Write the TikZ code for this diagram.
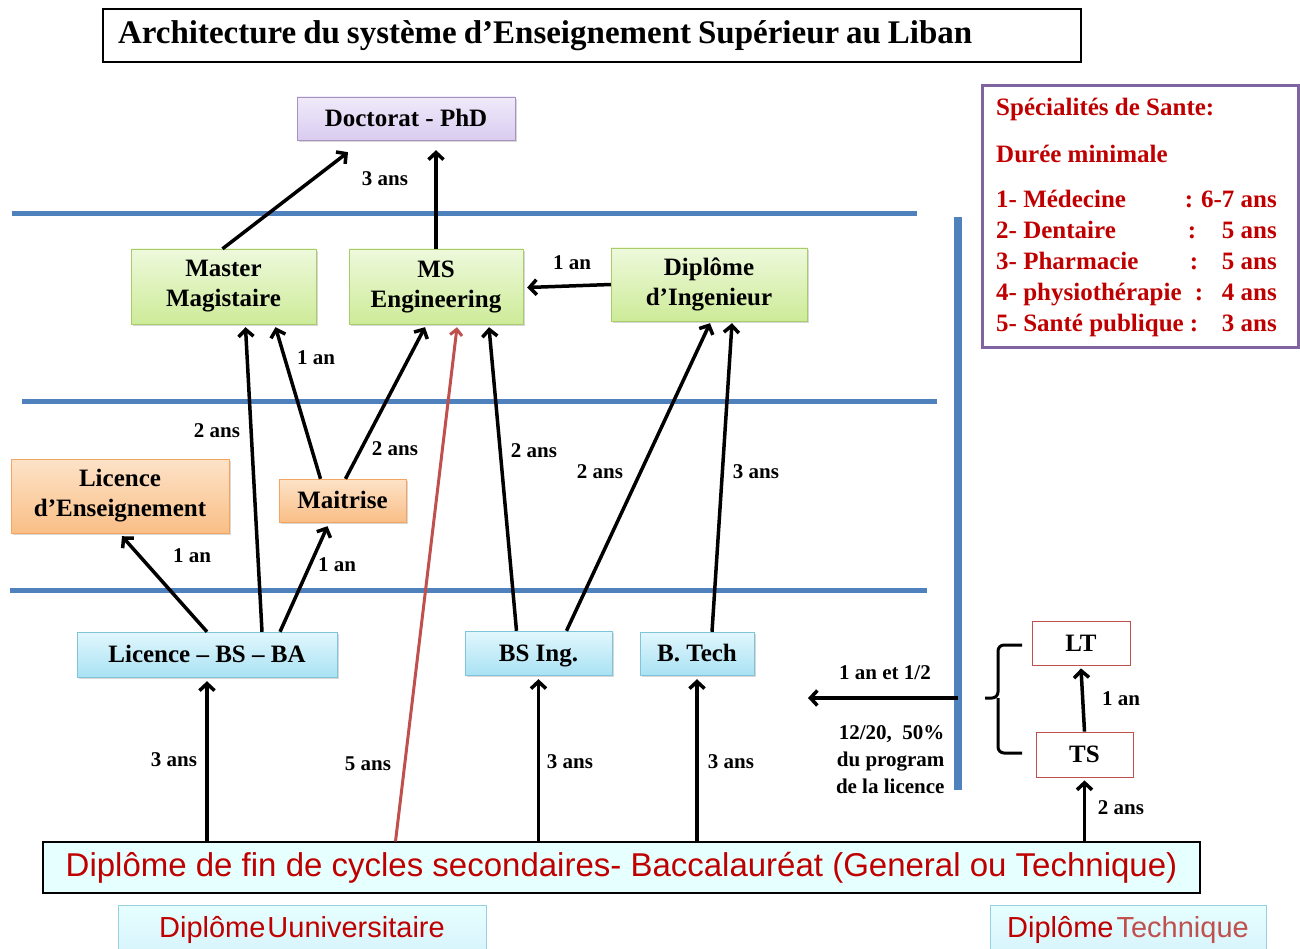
\documentclass[tikz,border=0pt]{standalone}
\usepackage{fontspec}
\setmainfont{Liberation Serif}
\newfontfamily\arialfont{Liberation Sans}
\usetikzlibrary{arrows.meta,calc,shadows}

\definecolor{lineblue}{HTML}{4F81BD}
\definecolor{darkred}{HTML}{C00000}
\definecolor{softred}{HTML}{C0504D}
\definecolor{purpleedge}{HTML}{8064A2}
\definecolor{phdtop}{HTML}{F0EAFA}
\definecolor{phdbot}{HTML}{D9CCF0}
\definecolor{greentop}{HTML}{EEF9DC}
\definecolor{greenbot}{HTML}{CDEB98}
\definecolor{greenedge}{HTML}{A9CC6B}
\definecolor{orangetop}{HTML}{FDE3C8}
\definecolor{orangebot}{HTML}{F9BE86}
\definecolor{orangeedge}{HTML}{F3A461}
\definecolor{bluetop}{HTML}{E2F7FD}
\definecolor{bluebot}{HTML}{A9E2F3}
\definecolor{blueedge}{HTML}{7FC4D8}
\definecolor{bacfill}{HTML}{E6FFFF}

\begin{document}
\begin{tikzpicture}[x=1pt,y=-1pt,
    % boxes of the levels
    level/.style={draw, rectangle, inner sep=2pt, align=center,
      font=\bfseries\fontsize{25}{30}\selectfont,
      drop shadow={opacity=0.3, shadow xshift=2pt, shadow yshift=-2pt}},
    oneline/.style={text height=22pt, text depth=6pt},
    phdbox/.style={level, oneline, draw=purpleedge!70, top color=phdtop, bottom color=phdbot},
    gradbox/.style={level, draw=greenedge, top color=greentop, bottom color=greenbot},
    midbox/.style={level, draw=orangeedge, top color=orangetop, bottom color=orangebot},
    ugbox/.style={level, oneline, draw=blueedge, top color=bluetop, bottom color=bluebot},
    techbox/.style={draw=softred, fill=white, line width=0.8pt,
      font=\bfseries\fontsize{25}{30}\selectfont},
    dur/.style={font=\bfseries\fontsize{21}{27}\selectfont},
    spec/.style={text=darkred, font=\bfseries\fontsize{25}{30}\selectfont,
      inner sep=0pt, text height=22pt, text depth=6pt},
    arr/.style={line width=3.5pt, -{Straight Barb[length=7pt,width=15pt]}},
    sep/.style={lineblue, line width=5pt}
  ]
  \clip (0,0) rectangle (1300,949);
  \fill[white] (0,0) rectangle (1300,949);

  % title
  \node[draw, line width=1.2pt, minimum width=978pt, minimum height=53pt,
    inner xsep=15pt, text width=948pt, align=left,
    font=\bfseries\fontsize{33}{36}\selectfont] (title) at (592,35.5)
    {\spaceskip=0.21em Architecture du système d’Enseignement Supérieur au Liban};

  % separation lines
  \foreach \xa/\xb/\y in {12/917/214, 22/937/401, 10/927/590}{
    \draw[sep] (\xa,\y) -- (\xb,\y);
  }
  \draw[lineblue, line width=8pt] (958,217) -- (958,790);
  \coordinate (vmid) at (958,698);
  \coordinate (vleft) at (808,698);

  % levels
  \node[phdbox, minimum width=218pt, minimum height=43pt] (doc) at (406,118.5) {Doctorat - PhD};
  \node[gradbox, minimum width=185pt, minimum height=75pt] (master) at (223.5,286.5) {Master\\Magistaire};
  \node[gradbox, minimum width=174pt, minimum height=75pt] (ms) at (436,286.5) {MS\\Engineering};
  \node[gradbox, minimum width=196pt, minimum height=73pt] (dip) at (709,284.5) {Diplôme\\d’Ingenieur};
  \node[midbox, minimum width=218pt, minimum height=74pt] (licens) at (120,496) {Licence\\d’Enseignement};
  \node[midbox, oneline, minimum width=127pt, minimum height=43pt] (mait) at (342.5,500.5) {Maitrise};
  \node[ugbox, minimum width=260pt, minimum height=45pt] (licb) at (207,654.5) {Licence – BS – BA};
  \node[ugbox, minimum width=147pt, minimum height=44pt] (bsing) at (538.5,653) {BS Ing.};
  \node[ugbox, minimum width=114pt, minimum height=43pt] (btech) at (697,653.5) {B. Tech};

  % baccalaureat
  \node[draw, line width=1.2pt, fill=bacfill, minimum width=1157pt, minimum height=51pt,
    text=darkred, font=\arialfont\fontsize{33}{36}\selectfont] (bac) at (621.5,867.5)
    {Diplôme de fin de cycles secondaires- Baccalauréat (General ou Technique)};
  \node[draw=blueedge!80, line width=1pt, top color=bacfill, bottom color=bluetop!80!bluebot,
    minimum width=368pt, minimum height=50pt, text=darkred,
    font=\arialfont\fontsize{29}{32}\selectfont] (univ) at (302,930)
    {\raisebox{3pt}{Diplôme\hspace{2pt}Uuniversitaire}};
  \node[draw=blueedge!80, line width=1pt, top color=bacfill, bottom color=bluetop!80!bluebot,
    minimum width=276pt, minimum height=50pt,
    font=\arialfont\fontsize{29}{32}\selectfont] (techd) at (1128,930)
    {\raisebox{3pt}{\textcolor{darkred}{Diplôme}\hspace{3pt}\textcolor{softred}{Technique}}};

  % technical track
  \node[techbox, minimum width=98pt, minimum height=44pt] (lt) at (1081,643) {LT};
  \node[techbox, minimum width=97pt, minimum height=45pt] (ts) at (1084.5,754.5) {TS};
  \draw[line width=3pt, rounded corners=6pt]
    (1022,645) -- (998,645) -- (998,698) -- (985,698)
    (998,698) -- (998,753) -- (1022,753);

  % health specialities
  \node[draw=purpleedge, line width=3pt, minimum width=316pt, minimum height=261pt] (spec) at (1140,216.5) {};
  \node[spec, anchor=west] (spect) at (996,108) {Spécialités de Sante:};
  \node[spec, anchor=west] (specd) at (996,155) {Durée minimale};
  \foreach \y/\nom/\xc/\an in {200/1- Médecine/1189/6-7 ans, 231/2- Dentaire/1192/5 ans,
      262/3- Pharmacie/1194/5 ans, 293/4- physiothérapie/1199/4 ans, 323/5- Santé publique/1194/3 ans}{
    \node[spec, anchor=west] at (996,\y) {\nom};
    \node[spec] at (\xc,\y) {:};
    \node[spec, anchor=east] at (1277,\y) {\an};
  }

  % arrows
  \draw[arr] ($(master.north)+(-1,0)$) -- ($(doc.south)+(-58,12)$);
  \draw[arr] (ms.north) -- ($(ms.north |- doc.south)+(0,10)$);
  \draw[arr] (dip.west) -- ($(ms.east)+(4,1)$);
  \draw[arr] (licb.north) -- ($(licens.south)+(2,3)$);
  \draw[arr] ($(licb.north)+(55,0)$) -- ($(master.south)+(22,3)$);
  \draw[arr] ($(licb.north)+(73,0)$) -- ($(mait.south)+(-15,4)$);
  \draw[arr] ($(mait.north)+(-22,0)$) -- ($(master.south)+(52,3)$);
  \draw[arr] ($(mait.north)+(3,0)$) -- ($(ms.south)+(-11,3)$);
  \draw[softred, line width=3pt, -{Straight Barb[length=6pt,width=12pt]}]
    ($(bac.north)+(-226,0)$) -- ($(ms.south)+(21,3)$);
  \draw[arr] ($(bsing.north)+(-22,0)$) -- ($(ms.south)+(53,3)$);
  \draw[arr] ($(bsing.north)+(28,0)$) -- ($(dip.south)+(1,2)$);
  \draw[arr] ($(btech.north)+(15,0)$) -- ($(dip.south)+(23,2)$);
  \draw[arr] (bac.north -| licb.south) -- ($(licb.south)+(0,4)$);
  \draw[arr] (bac.north -| bsing.south) -- ($(bsing.south)+(0,4)$);
  \draw[arr] (bac.north -| btech.south) -- ($(btech.south)+(0,4)$);
  \draw[arr] (bac.north -| ts.south) -- ($(ts.south)+(0,3)$);
  \draw[arr] (ts.north) -- ($(lt.south)+(0,3)$);
  \draw[arr] (vmid) -- (vleft);

  % durations
  \node[dur] at (385,179) {3 ans};
  \node[dur] at (572,263) {1 an};
  \node[dur] at (316,358) {1 an};
  \node[dur] at (217,431) {2 ans};
  \node[dur] at (395,449) {2 ans};
  \node[dur] at (534,451) {2 ans};
  \node[dur] at (600,472) {2 ans};
  \node[dur] at (756,472) {3 ans};
  \node[dur] at (192,556) {1 an};
  \node[dur] at (337,565) {1 an};
  \node[dur] at (174,760) {3 ans};
  \node[dur] at (368,764) {5 ans};
  \node[dur] at (570,762) {3 ans};
  \node[dur] at (731,762) {3 ans};
  \node[dur] at (885,673) {1 an et 1/2};
  \node[dur, anchor=east, align=right] at (948,760) {12/20,~ 50\%\\du program\\de la licence};
  \node[dur] at (1121,699) {1 an};
  \node[dur] at (1121,808) {2 ans};
\end{tikzpicture}
\end{document}
